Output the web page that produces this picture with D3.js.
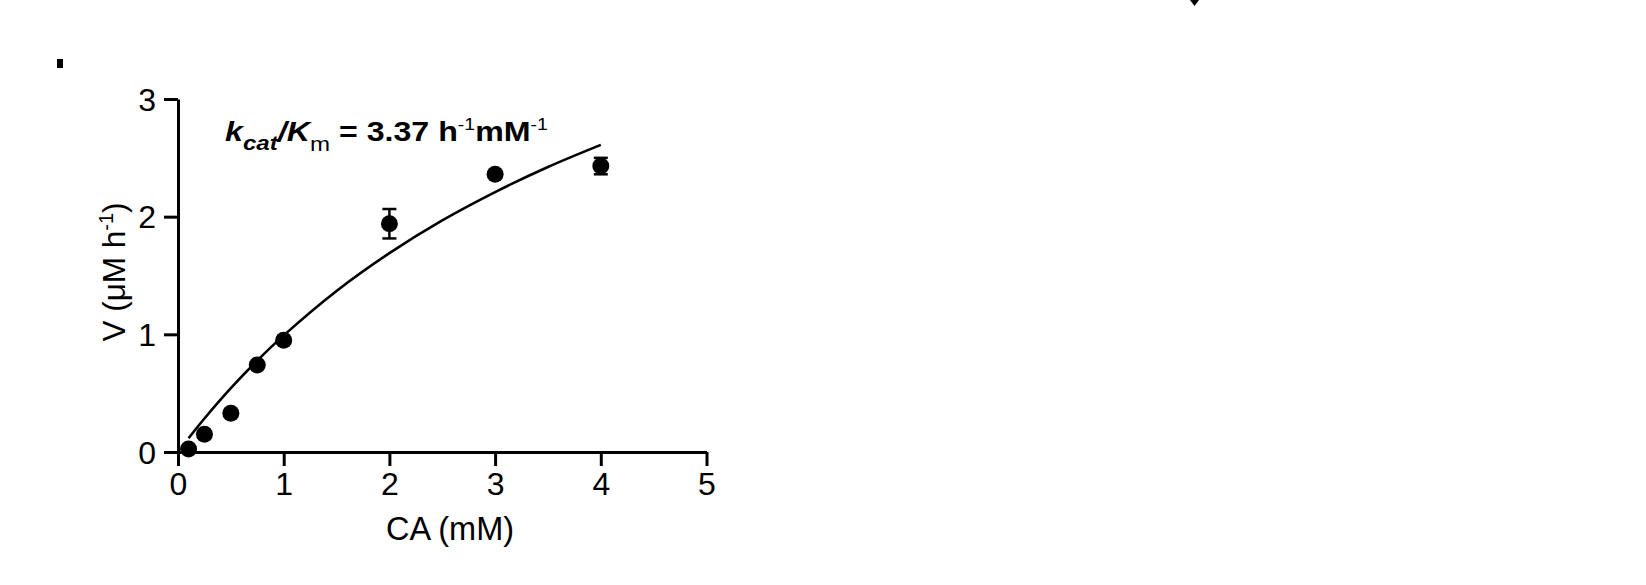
<!DOCTYPE html>
<html>
<head>
<meta charset="utf-8">
<script src="https://cdn.jsdelivr.net/npm/d3@7"></script>
<style>
  body { margin: 0; background: #fff; }
  svg text { font-family: "Liberation Sans", Arial, sans-serif; fill: #000; }
</style>
</head>
<body>
<div id="my_dataviz"></div>
<script>
// measured points (CA in mM, V in uM/h)
var concentrations = [0.1, 0.25, 0.5, 0.75, 1, 2, 3, 4];
var rates = [0.025, 0.15, 0.33, 0.74, 0.95, 1.94, 2.36, 2.43];
var rateErrors = [0, 0, 0, 0, 0, 0.125, 0.02, 0.07];

// fitted curve
var fitX = [0.1, 0.25, 0.5, 0.75, 1, 1.5, 2, 2.5, 3, 3.5, 4];
var fitY = [0.117, 0.285, 0.543, 0.777, 0.991, 1.369, 1.69, 1.968, 2.209, 2.422, 2.61];

var xTicks = [0, 1, 2, 3, 4, 5];
var yTicks = [0, 1, 2, 3];

// set the dimensions of the page and plot area
var W = 1646, H = 585;
var margin = {top: 99, left: 178},
    width = 528.5,
    height = 353;

var svg = d3.select("#my_dataviz")
  .append("svg")
    .attr("width", W)
    .attr("height", H);

var g = svg.append("g")
    .attr("transform", "translate(" + margin.left + "," + margin.top + ")");

var x = d3.scaleLinear()
  .domain([0, 5])
  .range([0, width]);

var y = d3.scaleLinear()
  .domain([0, 3])
  .range([height, 0]);

// X axis
var xAxis = g.append("g")
  .attr("transform", "translate(0," + height + ")")
  .call(d3.axisBottom(x).tickValues(xTicks).tickFormat(d3.format("d")).tickSize(14).tickSizeOuter(0));

// Y axis
var yAxis = g.append("g")
  .call(d3.axisLeft(y).tickValues(yTicks).tickFormat(d3.format("d")).tickSize(14).tickSizeOuter(0));

[xAxis, yAxis].forEach(function(a) {
  a.select(".domain").attr("stroke", "#000").attr("stroke-width", 3);
  a.selectAll(".tick line").attr("stroke", "#000").attr("stroke-width", 3);
  a.selectAll("text")
    .style("font-size", "32px")
    .style("font-family", "'Liberation Sans', Arial, sans-serif")
    .attr("fill", "#000");
});
xAxis.selectAll("text").attr("dy", "0.71em").attr("y", 20);
yAxis.selectAll("text").attr("x", -22).attr("dy", "0.35em");

// axis titles
svg.append("text")
  .attr("x", 450)
  .attr("y", 540)
  .attr("text-anchor", "middle")
  .style("font-size", "32.5px")
  .text("CA (mM)");

var yLab = svg.append("text")
  .attr("transform", "translate(125,272) rotate(-90)")
  .attr("text-anchor", "middle")
  .style("font-size", "31.5px");
yLab.append("tspan").text("V (μM h");
yLab.append("tspan").attr("dy", -12).style("font-size", "20px").text("-1");
yLab.append("tspan").attr("dy", 12).text(")");

// fitted line
var line = d3.line()
  .x(function(d, i) { return x(fitX[i]); })
  .y(function(d) { return y(d); })
  .curve(d3.curveCatmullRom);

g.append("path")
  .datum(fitY)
  .attr("fill", "none")
  .attr("stroke", "#000")
  .attr("stroke-width", 2.6)
  .attr("d", line);

// error bars
g.selectAll("myerr")
  .data(rates)
  .enter()
  .append("g")
  .each(function(d, i) {
    if (rateErrors[i] < 0.03) return;
    var sel = d3.select(this);
    var cx = x(concentrations[i]);
    sel.append("line")
      .attr("x1", cx).attr("x2", cx)
      .attr("y1", y(d - rateErrors[i])).attr("y2", y(d + rateErrors[i]))
      .attr("stroke", "#000").attr("stroke-width", 2.5);
    [d - rateErrors[i], d + rateErrors[i]].forEach(function(v) {
      sel.append("line")
        .attr("x1", cx - 7).attr("x2", cx + 7)
        .attr("y1", y(v)).attr("y2", y(v))
        .attr("stroke", "#000").attr("stroke-width", 2.5);
    });
  });

// circles
g.selectAll("mycircle")
  .data(rates)
  .enter()
  .append("circle")
    .attr("cx", function(d, i) { return x(concentrations[i]); })
    .attr("cy", function(d) { return y(d); })
    .attr("r", 8.5)
    .style("fill", "#000");

// kcat/Km annotation, stretched a bit sideways like the original
var annG = svg.append("g");
var ann = annG.append("text")
  .attr("x", 0)
  .attr("y", 0)
  .style("font-size", "28px")
  .style("font-weight", "bold");
ann.append("tspan").style("font-style", "italic").text("k");
ann.append("tspan").style("font-style", "italic").style("font-size", "21px").attr("dy", 9).text("cat");
ann.append("tspan").style("font-style", "italic").attr("dy", -9).text("/K");
ann.append("tspan").style("font-size", "21px").style("font-weight", "normal").attr("dy", 10).text("m");
ann.append("tspan").attr("dy", -10).text(" = 3.37 h");
ann.append("tspan").style("font-size", "17px").style("font-weight", "normal").attr("dy", -11).text("-1");
ann.append("tspan").attr("dy", 11).text("mM");
ann.append("tspan").style("font-size", "17px").style("font-weight", "normal").attr("dy", -11).text("-1");
var bb = ann.node().getBBox();
var sx = 323 / bb.width;
annG.attr("transform", "translate(" + (225 - bb.x * sx) + ",141) scale(" + sx + ",1)");

// stray marks from the cropped figure
svg.append("rect")
  .attr("x", 57).attr("y", 59).attr("width", 6).attr("height", 9)
  .attr("fill", "#000");
svg.append("path")
  .attr("d", "M1190,0 L1199,0 L1194.5,6 Z")
  .attr("fill", "#000");
</script>
</body>
</html>
